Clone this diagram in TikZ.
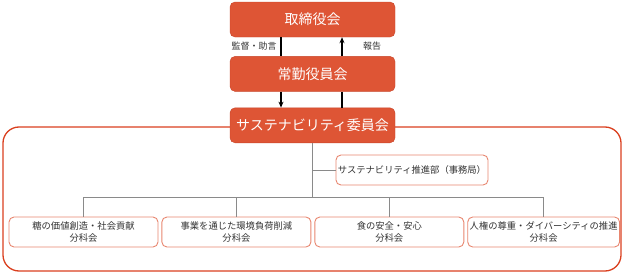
\documentclass[tikz,border=0pt]{standalone}
\usepackage{fontspec}
\newfontfamily\jpfont{Noto Sans CJK JP}
\usetikzlibrary{arrows.meta, positioning, backgrounds}
\definecolor{sustRed}{HTML}{DE5535}
\definecolor{sustDark}{HTML}{C8452A}
\definecolor{frameRed}{HTML}{DA3F1E}
\definecolor{subLine}{HTML}{E8866F}
\definecolor{linkGray}{HTML}{8A8A8A}
\definecolor{textDark}{HTML}{333333}
\tikzset{
  boxMain/.style={rectangle, rounded corners=5pt, draw=sustDark, fill=sustRed,
                  text=white, align=center, font=\jpfont\fontsize{14}{16}\selectfont,
                  minimum width=165pt, minimum height=35pt, inner sep=2pt},
  boxSub/.style={rectangle, rounded corners=5pt, draw=subLine, fill=white, line width=0.9pt,
                 text=textDark, align=center, font=\jpfont\fontsize{9.3}{11.5}\selectfont,
                 minimum width=149pt, minimum height=30pt, inner sep=2pt},
  arrowK/.style={-{Stealth[length=6pt, width=5pt]}, black, line width=1.4pt},
  lineK/.style={black, line width=1.4pt},
  link/.style={linkGray, line width=0.8pt},
  lbl/.style={font=\jpfont\fontsize{9}{10}\selectfont, text=textDark},
}
\begin{document}
\begin{tikzpicture}[x=1pt, y=-1pt, node distance=16pt and 3pt]
  \useasboundingbox (0,0) rectangle (624,273);
  % outer frame
  \draw[frameRed, line width=1.3pt, rounded corners=16pt] (3,127) rectangle (621,271);

  % committees
  \node[boxMain] (board) at (312.5,19.5) {取締役会};
  \node[boxMain, below=19pt of board] (exec) {常勤役員会};
  \node[boxMain, below=of exec] (com) {サステナビリティ委員会};

  % supervision / reporting
  \draw[lineK] ([xshift=-31.5pt]board.south) -- ([xshift=-31.5pt]exec.north);
  \draw[arrowK] ([xshift=-31.5pt]exec.south) -- ([xshift=-31.5pt]com.north);
  \draw[lineK] ([xshift=29.5pt]com.north) -- ([xshift=29.5pt]exec.south);
  \draw[arrowK] ([xshift=29.5pt]exec.north) -- ([xshift=29.5pt]board.south);
  \node[lbl] (sup) at (254,46) {監督・助言};
  \node[lbl] (rep) at (372,46) {報告};

  % secretariat
  \node[boxSub, minimum width=150pt] (sec) at (412,170) {サステナビリティ推進部（事務局）};

  % subcommittees
  \node[boxSub] (s1) at (83.5,232) {糖の価値創造・社会貢献\\分科会};
  \node[boxSub, right=of s1] (s2) {事業を通じた環境負荷削減\\分科会};
  \node[boxSub, right=of s2] (s3) {食の安全・安心\\分科会};
  \node[boxSub, right=of s3] (s4) {人権の尊重・ダイバーシティの推進\\分科会};

  % tree lines
  \coordinate (bus) at (312.5,197);
  \draw[link] (com.south) -- (bus);
  \draw[link] (com.south |- sec.west) -- (sec.west);
  \draw[link] (bus -| s1.north) -- (bus -| s4.north);
  \foreach \i in {1,...,4}
    \draw[link] (bus -| s\i.north) -- (s\i.north);
\end{tikzpicture}
\end{document}
